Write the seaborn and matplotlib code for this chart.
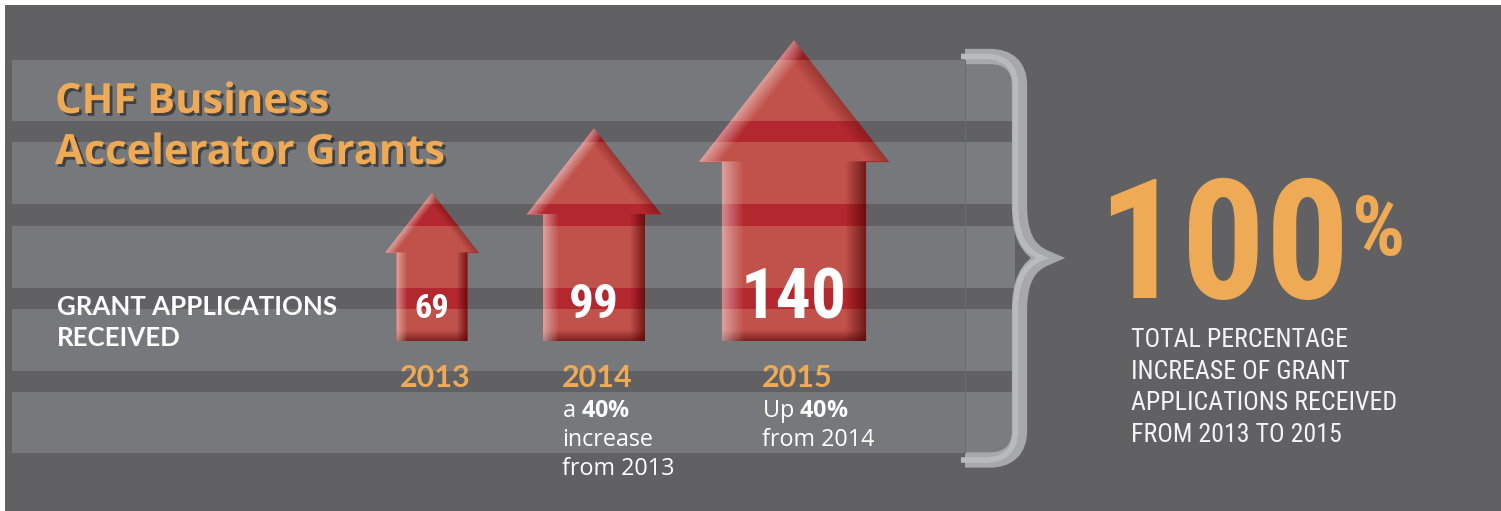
import numpy as np
import pandas as pd
import seaborn as sns
import matplotlib.pyplot as plt
from matplotlib import font_manager as fm
from matplotlib.patches import Rectangle, Polygon, PathPatch
from matplotlib.path import Path
import matplotlib.patheffects as pe

years = ["2013", "2014", "2015"]
applications = [69, 99, 140]
notes = [[], ["a $\\mathbf{40\\%}$", "increase", "from 2013"], ["Up $\\mathbf{40\\%}$", "from 2014"]]
title_lines = ["CHF Business", "Accelerator Grants"]
row_label = ["GRANT APPLICATIONS", "RECEIVED"]
total_increase = 100
caption = ["TOTAL PERCENTAGE", "INCREASE OF GRANT", "APPLICATIONS RECEIVED", "FROM 2013 TO 2015"]


def pick(*names):
    for n in names:
        try:
            fm.findfont(n, fallback_to_default=False)
            return n
        except Exception:
            pass
    return "DejaVu Sans"


sns.set_style("white")
HUMAN = pick("Lato", "Open Sans", "DejaVu Sans")
OPEN = pick("Open Sans", "Lato", "DejaVu Sans")
NARROW = pick("Liberation Sans Narrow", "Roboto Condensed", "Liberation Sans")
plt.rcParams["font.family"] = [HUMAN, "DejaVu Sans"]
plt.rcParams["mathtext.fontset"] = "custom"
plt.rcParams["mathtext.rm"] = OPEN
plt.rcParams["mathtext.bf"] = OPEN + ":bold"

PANEL = "#616163"
STRIPE = "#77787b"
RED = "#c1514b"
RED_DARK = "#b3282f"
ORANGE = "#eeaa55"

# layout (pixels)
K = 2.15                 # px per application
BASE = 341               # arrow bottom (px from top)
SHAFT_W, HEAD_W, HEAD_H = 1.03, 1.36, 0.87
arrow_x = [432, 594, 794]
bands = [(60, 121), (142, 204), (226, 288), (309, 371), (392, 453)]

fig = plt.figure(figsize=(15.01, 5.11), dpi=100)
fig.patch.set_facecolor("white")

bg = fig.add_axes([0, 0, 1, 1], zorder=0)
bg.set_xlim(0, 1501)
bg.set_ylim(511, 0)
bg.axis("off")
bg.add_patch(Rectangle((5, 5), 1496, 506, color=PANEL, lw=0))
for top, bot in bands:
    bg.add_patch(Rectangle((12, top), 953, bot - top, color=STRIPE, lw=0))
    bg.add_patch(Rectangle((965, top), 50, bot - top, color="#7b7c7f", lw=0))
bg.plot([965, 965], [60, 453], color="#6c6d70", lw=0.8)

# curly brace
verts = [(965, 56.5), (990, 56.5), (1008, 56.5), (1019.5, 66), (1019.5, 85),
         (1019.5, 205), (1019.5, 232), (1026, 250), (1046, 258),
         (1026, 266), (1019.5, 284), (1019.5, 311),
         (1019.5, 431), (1019.5, 450), (1008, 460), (990, 460), (965, 460)]
codes = [Path.MOVETO, Path.LINETO, Path.CURVE4, Path.CURVE4, Path.CURVE4,
         Path.LINETO, Path.CURVE4, Path.CURVE4, Path.CURVE4,
         Path.CURVE4, Path.CURVE4, Path.CURVE4,
         Path.LINETO, Path.CURVE4, Path.CURVE4, Path.CURVE4, Path.LINETO]
bg.add_patch(PathPatch(Path(verts, codes), fill=False, color="#a7a8ab", lw=11,
                       capstyle="butt", joinstyle="miter"))
inner = [(x - 4, y) for x, y in verts]
bg.add_patch(PathPatch(Path(inner, codes), fill=False, color="#b9babd", lw=4,
                       capstyle="butt", joinstyle="miter"))

# title and row label
shadow = [pe.withSimplePatchShadow(offset=(2, -2), shadow_rgbFace="black", alpha=0.45)]
for line, y in zip(title_lines, [113, 164]):
    bg.text(55, y, line, color=ORANGE, fontsize=30, fontweight="bold", family=OPEN,
            va="baseline", path_effects=shadow)
for line, y in zip(row_label, [315, 346]):
    bg.text(57, y, line, color="white", fontsize=18.6, fontweight="bold", va="baseline")

# year labels and notes
for cx, yr, lines in zip(arrow_x, years, notes):
    bg.text(cx - 32, 387, yr, color=ORANGE, fontsize=22, fontweight="bold", va="baseline")
    for i, line in enumerate(lines):
        bg.text(cx - 32, 417 + 29 * i, line, color="white", fontsize=16.8, family=OPEN,
                va="baseline")

# big total
bg.text(1097, 298, f"{total_increase}", color=ORANGE, fontsize=120, fontweight="bold",
        family=NARROW, va="baseline")
bg.text(1352, 193, "%", color=ORANGE, fontsize=60, fontweight="bold", family=NARROW, va="top")
for i, line in enumerate(caption):
    bg.text(1131, 347 + 31.7 * i, line, color="#f4f4f4", fontsize=18.6, family=NARROW,
            va="baseline")

# arrows: y in applications
ax = fig.add_axes([0, 0, 1, 1], zorder=1)
ax.patch.set_visible(False)
head_frac = HEAD_H / K
df = pd.DataFrame({"x": arrow_x, "year": years, "apps": applications})
df["shaft_top"] = df["apps"] * (1 - head_frac)
sns.barplot(data=df, x="x", y="shaft_top", native_scale=True, orient="x", color=RED,
            saturation=1, linewidth=0, ax=ax, zorder=2)

gaps = [(0, bands[0][0])] + [(bands[i][1], bands[i + 1][0]) for i in range(len(bands) - 1)]


def to_val(py):
    return (BASE - py) / K


for bar, cx, v in zip(ax.patches, arrow_x, applications):
    sw, hw, hh = SHAFT_W * v, HEAD_W * v, HEAD_H * v
    bar.set_x(cx - sw / 2)
    bar.set_width(sw)
    hb = v * (1 - head_frac)
    ax.fill([cx - hw / 2, cx, cx + hw / 2], [hb - 0.3, v, hb - 0.3], color=RED, lw=0, zorder=2)
    pts = [(cx - sw / 2, 0), (cx - sw / 2, hb), (cx - hw / 2, hb), (cx, v),
           (cx + hw / 2, hb), (cx + sw / 2, hb), (cx + sw / 2, 0)]
    outline = Polygon(pts, closed=True, facecolor="none", edgecolor="none")
    ax.add_patch(outline)
    for top, bot in gaps:
        r = Rectangle((cx - hw / 2, to_val(bot)), hw, (bot - top) / K, color=RED_DARK, lw=0, zorder=3)
        ax.add_patch(r)
        r.set_clip_path(outline)

    # bevel shading
    tot = K * v
    py = np.arange(int(round(tot))) + 0.5
    px = np.linspace(-hw / 2, hw / 2, int(round(hw)))
    PX, PY = np.meshgrid(px, py)
    in_head = PY < hh
    half = np.where(in_head, PY / hh * hw / 2, sw / 2)
    edge = 0.15 * sw
    hi = 0.45 * np.clip(1 - (PX + half) / edge, 0, 1)
    sh = np.clip(1 - (half - PX) / edge, 0, 1) * np.where(in_head, 0.35, 0.7)
    bt = 0.6 * np.clip(1 - (tot - PY) / 11, 0, 1)
    dark = 1 - (1 - sh) * (1 - bt)
    img_dark = np.zeros(PX.shape + (4,))
    img_dark[..., 0] = 0.3
    img_dark[..., 3] = dark
    img_hi = np.ones(PX.shape + (4,))
    img_hi[..., 3] = hi
    for img in (img_dark, img_hi):
        im = ax.imshow(img, extent=(cx - hw / 2, cx + hw / 2, 0, v), origin="upper",
                       aspect="auto", interpolation="bilinear", zorder=4)
        im.set_clip_path(outline)

    ax.text(cx, to_val(318), str(v), color="white", fontsize=v * 0.36, fontweight="bold",
            family=NARROW, ha="center", va="baseline", zorder=6)

ax.set_xlim(0, 1501)
ax.set_ylim(to_val(511), to_val(0))
ax.axis("off")

fig.savefig("out.png", dpi=100, facecolor="white")
